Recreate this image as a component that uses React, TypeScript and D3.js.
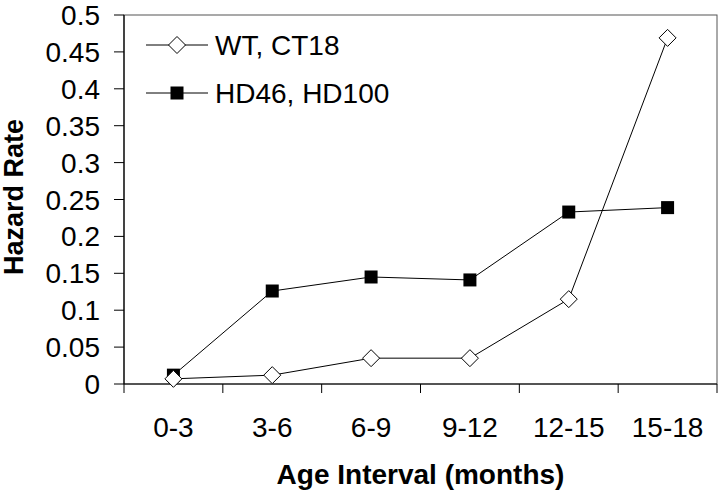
import React from "react";
import * as d3 from "d3";

const categories = ["0-3", "3-6", "6-9", "9-12", "12-15", "15-18"];
const wtValues = [0.007, 0.012, 0.035, 0.035, 0.115, 0.469];
const hdValues = [0.012, 0.126, 0.145, 0.141, 0.233, 0.239];
const yTicks = [0, 0.05, 0.1, 0.15, 0.2, 0.25, 0.3, 0.35, 0.4, 0.45, 0.5];
const seriesNames = ["WT, CT18", "HD46, HD100"];

const W = 720;
const H = 496;
const left = 124;
const right = 717;
const top = 15;
const bottom = 384;
const FONT = "'Liberation Sans', Arial, sans-serif";

export default function App() {
  const x = d3.scaleBand<string>().domain(categories).range([left, right]);
  const y = d3.scaleLinear().domain([0, 0.5]).range([bottom, top]);
  const cx = (c: string) => (x(c) as number) + x.bandwidth() / 2;
  const line = d3
    .line<number>()
    .x((_, i) => cx(categories[i]))
    .y((d) => y(d));
  const diamond = (px: number, py: number, r = 8.5) =>
    `M${px},${py - r}L${px + r},${py}L${px},${py + r}L${px - r},${py}Z`;
  const sq = 6.5;

  return (
    <svg
      width={W}
      height={H}
      style={{ position: "absolute", left: 0, top: 0, background: "#fff" }}
      fontFamily={FONT}
    >
      <rect x={0} y={0} width={W} height={H} fill="#fff" />
      {/* frame */}
      <rect x={left} y={top} width={right - left} height={bottom - top} fill="none" stroke="#555" strokeWidth={1} />
      <line x1={left} x2={left} y1={top} y2={bottom} stroke="#000" strokeWidth={1.2} />
      <line x1={left} x2={right} y1={bottom} y2={bottom} stroke="#000" strokeWidth={1.2} />
      {/* y ticks */}
      {yTicks.map((t) => (
        <g key={t}>
          <line x1={left - 10} x2={left} y1={y(t)} y2={y(t)} stroke="#000" />
          <text x={100} y={y(t)} dy="0.36em" textAnchor="end" fontSize={28} fill="#000">
            {String(t)}
          </text>
        </g>
      ))}
      {/* x ticks */}
      {categories.map((c, i) => (
        <line key={"t" + i} x1={(x(c) as number) + x.bandwidth()} x2={(x(c) as number) + x.bandwidth()} y1={bottom} y2={bottom + 9} stroke="#000" />
      ))}
      <line x1={left} x2={left} y1={bottom} y2={bottom + 9} stroke="#000" />
      {categories.map((c) => (
        <text key={c} x={cx(c)} y={437} textAnchor="middle" fontSize={28} fill="#000">
          {c}
        </text>
      ))}
      {/* axis titles */}
      <text x={(left + right) / 2} y={484} textAnchor="middle" fontSize={28} fontWeight="bold" fill="#000">
        Age Interval (months)
      </text>
      <text
        transform={`translate(23,197) rotate(-90)`}
        textAnchor="middle"
        fontSize={27}
        fontWeight="bold"
        fill="#000"
      >
        Hazard Rate
      </text>
      {/* series */}
      <path d={line(hdValues) || ""} fill="none" stroke="#000" strokeWidth={1} />
      <path d={line(wtValues) || ""} fill="none" stroke="#000" strokeWidth={1} />
      {hdValues.map((v, i) => (
        <rect key={"h" + i} x={cx(categories[i]) - sq} y={y(v) - sq} width={sq * 2} height={sq * 2} fill="#000" />
      ))}
      {wtValues.map((v, i) => (
        <path key={"w" + i} d={diamond(cx(categories[i]), y(v))} fill="#fff" stroke="#000" strokeWidth={1} />
      ))}
      {/* legend */}
      <g>
        <line x1={146} x2={208} y1={45} y2={45} stroke="#000" />
        <path d={diamond(177, 45)} fill="#fff" stroke="#000" />
        <text x={215} y={45} dy="0.36em" fontSize={28} fill="#000">
          {seriesNames[0]}
        </text>
        <line x1={146} x2={208} y1={93} y2={93} stroke="#000" />
        <rect x={177 - sq} y={93 - sq} width={sq * 2} height={sq * 2} fill="#000" />
        <text x={215} y={93} dy="0.36em" fontSize={28} fill="#000">
          {seriesNames[1]}
        </text>
      </g>
    </svg>
  );
}
